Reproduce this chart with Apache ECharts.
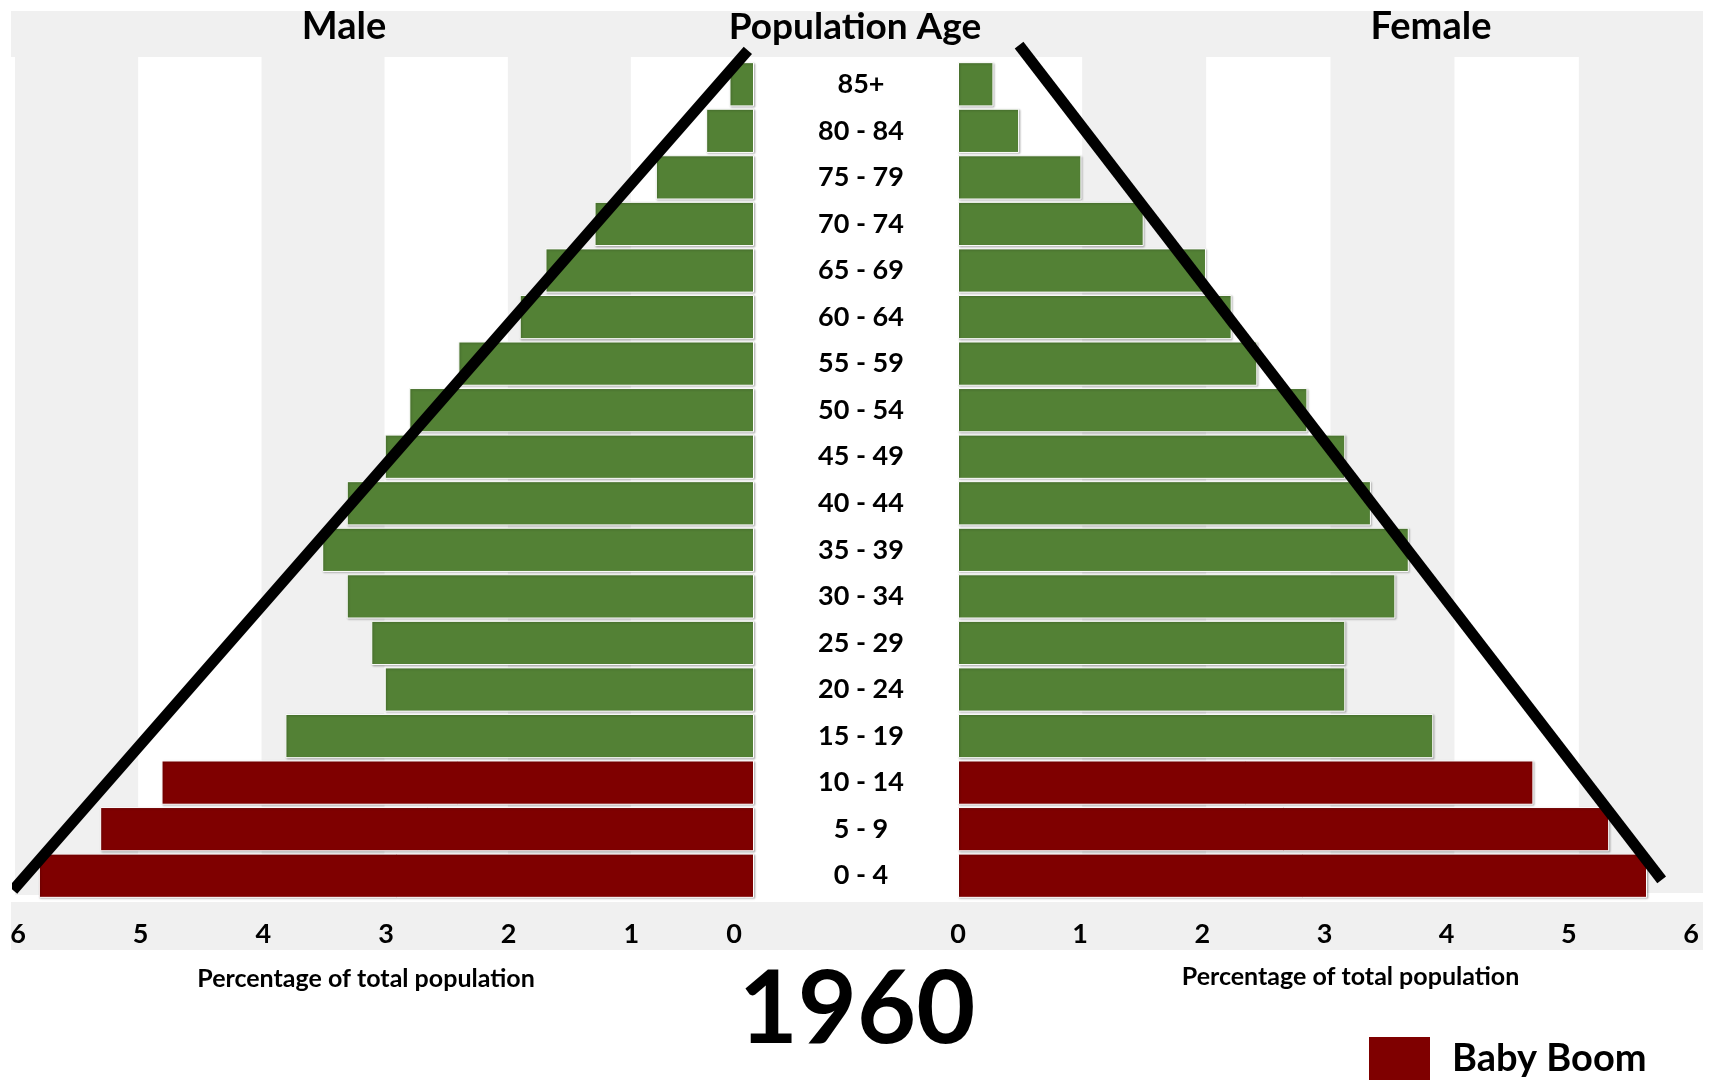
<!DOCTYPE html>
<html>
<head>
<meta charset="utf-8">
<title>Population Age 1960</title>
<script src="https://cdn.jsdelivr.net/npm/echarts@6/dist/echarts.min.js"></script>
<style>
  html, body { margin: 0; padding: 0; background: #fff; }
  #chart { width: 1713px; height: 1080px; }
</style>
</head>
<body>
<div id="chart"></div>
<script>
// age groups, bottom to top
const ageGroups = ['0 - 4', '5 - 9', '10 - 14', '15 - 19', '20 - 24', '25 - 29', '30 - 34', '35 - 39',
  '40 - 44', '45 - 49', '50 - 54', '55 - 59', '60 - 64', '65 - 69', '70 - 74', '75 - 79', '80 - 84', '85+'];
// percentage of total population
const maleShare = [5.83, 5.33, 4.83, 3.82, 3.01, 3.12, 3.32, 3.52, 3.32, 3.01, 2.81, 2.41, 1.91, 1.70, 1.30, 0.80, 0.39, 0.20];
const femaleShare = [5.64, 5.33, 4.71, 3.89, 3.17, 3.17, 3.58, 3.69, 3.38, 3.17, 2.86, 2.45, 2.24, 2.03, 1.52, 1.01, 0.50, 0.29];
const babyBoomGroups = ['0 - 4', '5 - 9', '10 - 14'];
const shareTicks = [0, 1, 2, 3, 4, 5, 6];
// hand-drawn pyramid outline, [share, age-row position]
const maleOutline = [[6.04, 0.19], [0.05, 18.23]];
const femaleOutline = [[0.50, 18.34], [5.76, 0.41]];

const GREEN = '#538135';
const RED = '#7f0000';
const GREY = '#f0f0f0';
const FONT = 'Lato, "Open Sans", sans-serif';

function splitBy(values, boom) {
  return values.map((v, i) => (babyBoomGroups.includes(ageGroups[i]) === boom ? v : '-'));
}

const barStyle = (color) => ({
  color: color,
  borderColor: '#ffffff',
  borderWidth: 1,
  shadowColor: 'rgba(0,0,0,0.25)',
  shadowBlur: 2,
  shadowOffsetX: 1,
  shadowOffsetY: 1
});

const tickLabel = {
  fontSize: 27,
  fontWeight: 'bold',
  fontFamily: FONT,
  color: '#000',
  margin: 22
};

const axisTitle = { fontSize: 25, fontWeight: 'bold', fontFamily: FONT, color: '#000' };

const chart = echarts.init(document.getElementById('chart'));
chart.setOption({
  animation: false,
  graphic: [
    { type: 'rect', shape: { x: 11, y: 11, width: 1692, height: 46 }, style: { fill: GREY } },
    { type: 'rect', shape: { x: 11, y: 902, width: 1692, height: 48 }, style: { fill: GREY } },
    { type: 'text', x: 344, y: 27, style: { text: 'Male', font: 'bold 38px ' + FONT, fill: '#000', textAlign: 'center', textVerticalAlign: 'middle' } },
    { type: 'text', x: 855, y: 27, style: { text: 'Population Age', font: 'bold 37px ' + FONT, fill: '#000', textAlign: 'center', textVerticalAlign: 'middle' } },
    { type: 'text', x: 1431, y: 27, style: { text: 'Female', font: 'bold 38px ' + FONT, fill: '#000', textAlign: 'center', textVerticalAlign: 'middle' } },
    { type: 'text', x: 857, y: 1010, style: { text: '1960', font: 'bold 102px ' + FONT, fill: '#000', textAlign: 'center', textVerticalAlign: 'middle' } }
  ],
  legend: {
    data: ['Baby Boom'],
    left: 1367,
    top: 1035,
    padding: 0,
    icon: 'rect',
    itemWidth: 63,
    itemHeight: 46,
    selectedMode: false,
    textStyle: { fontSize: 38, fontWeight: 'bold', fontFamily: FONT, color: '#000', padding: [0, 0, 0, 16] }
  },
  grid: [
    { left: 18, top: 61, width: 736, height: 838, outerBoundsMode: 'none' },
    { left: 958, top: 61, width: 733, height: 838, outerBoundsMode: 'none' },
    // background bands
    { left: 15, top: 57, width: 739, height: 838, outerBoundsMode: 'none' },
    { left: 958, top: 57, width: 745, height: 836, outerBoundsMode: 'none' }
  ],
  xAxis: [
    {
      gridIndex: 0, type: 'value', inverse: true, min: 0, max: 6, interval: 1,
      axisLine: { show: false, onZero: false }, axisTick: { show: false }, splitLine: { show: false },
      axisLabel: Object.assign({}, tickLabel, {
        formatter: (v) => (v === 0 ? '{z|0}' : String(v)),
        rich: { z: { fontSize: 27, fontWeight: 'bold', fontFamily: FONT, color: '#000', padding: [0, 40, 0, 0] } }
      }),
      name: 'Percentage of total population',
      nameLocation: 'middle',
      nameGap: 67,
      nameTextStyle: Object.assign({}, axisTitle, { padding: [0, 40, 0, 0] })
    },
    {
      gridIndex: 1, type: 'value', min: 0, max: 6, interval: 1,
      axisLine: { show: false, onZero: false }, axisTick: { show: false }, splitLine: { show: false },
      axisLabel: tickLabel,
      name: 'Percentage of total population',
      nameLocation: 'middle',
      nameGap: 65,
      nameTextStyle: Object.assign({}, axisTitle, { padding: [0, 0, 0, 52] })
    },
    {
      gridIndex: 2, type: 'value', inverse: true, min: 0, max: 6, interval: 1,
      axisLine: { show: false }, axisTick: { show: false }, axisLabel: { show: false }, splitLine: { show: false },
      splitArea: { show: true, areaStyle: { color: ['#ffffff', GREY] } }
    },
    {
      gridIndex: 3, type: 'value', min: 0, max: 6, interval: 1,
      axisLine: { show: false }, axisTick: { show: false }, axisLabel: { show: false }, splitLine: { show: false },
      splitArea: { show: true, areaStyle: { color: ['#ffffff', GREY] } }
    }
  ],
  yAxis: [
    {
      gridIndex: 0, type: 'category', data: ageGroups, position: 'right',
      axisLine: { show: false, onZero: false }, axisTick: { show: false },
      axisLabel: { interval: 0, align: 'center', margin: 107, fontSize: 27, fontWeight: 'bold', fontFamily: FONT, color: '#000' }
    },
    { gridIndex: 0, type: 'value', min: 0, max: 18, show: false },
    { gridIndex: 1, type: 'category', data: ageGroups, show: false },
    { gridIndex: 1, type: 'value', min: 0, max: 18, show: false },
    { gridIndex: 2, type: 'value', min: 0, max: 1, show: false },
    { gridIndex: 3, type: 'value', min: 0, max: 1, show: false }
  ],
  series: [
    {
      name: 'Population', type: 'bar', xAxisIndex: 0, yAxisIndex: 0, stack: 'male',
      barCategoryGap: '5%', itemStyle: barStyle(GREEN), data: splitBy(maleShare, false)
    },
    {
      name: 'Baby Boom', type: 'bar', xAxisIndex: 0, yAxisIndex: 0, stack: 'male',
      barCategoryGap: '5%', itemStyle: barStyle(RED), data: splitBy(maleShare, true)
    },
    {
      name: 'Population', type: 'bar', xAxisIndex: 1, yAxisIndex: 2, stack: 'female',
      barCategoryGap: '5%', itemStyle: barStyle(GREEN), data: splitBy(femaleShare, false)
    },
    {
      name: 'Baby Boom', type: 'bar', xAxisIndex: 1, yAxisIndex: 2, stack: 'female',
      barCategoryGap: '5%', itemStyle: barStyle(RED), data: splitBy(femaleShare, true)
    },
    {
      name: 'Male outline', type: 'line', xAxisIndex: 0, yAxisIndex: 1, clip: false, z: 5,
      symbol: 'none', lineStyle: { color: '#000', width: 11, cap: 'butt' }, data: maleOutline
    },
    {
      name: 'Female outline', type: 'line', xAxisIndex: 1, yAxisIndex: 3, clip: false, z: 5,
      symbol: 'none', lineStyle: { color: '#000', width: 11, cap: 'butt' }, data: femaleOutline
    }
  ]
});
</script>
</body>
</html>
